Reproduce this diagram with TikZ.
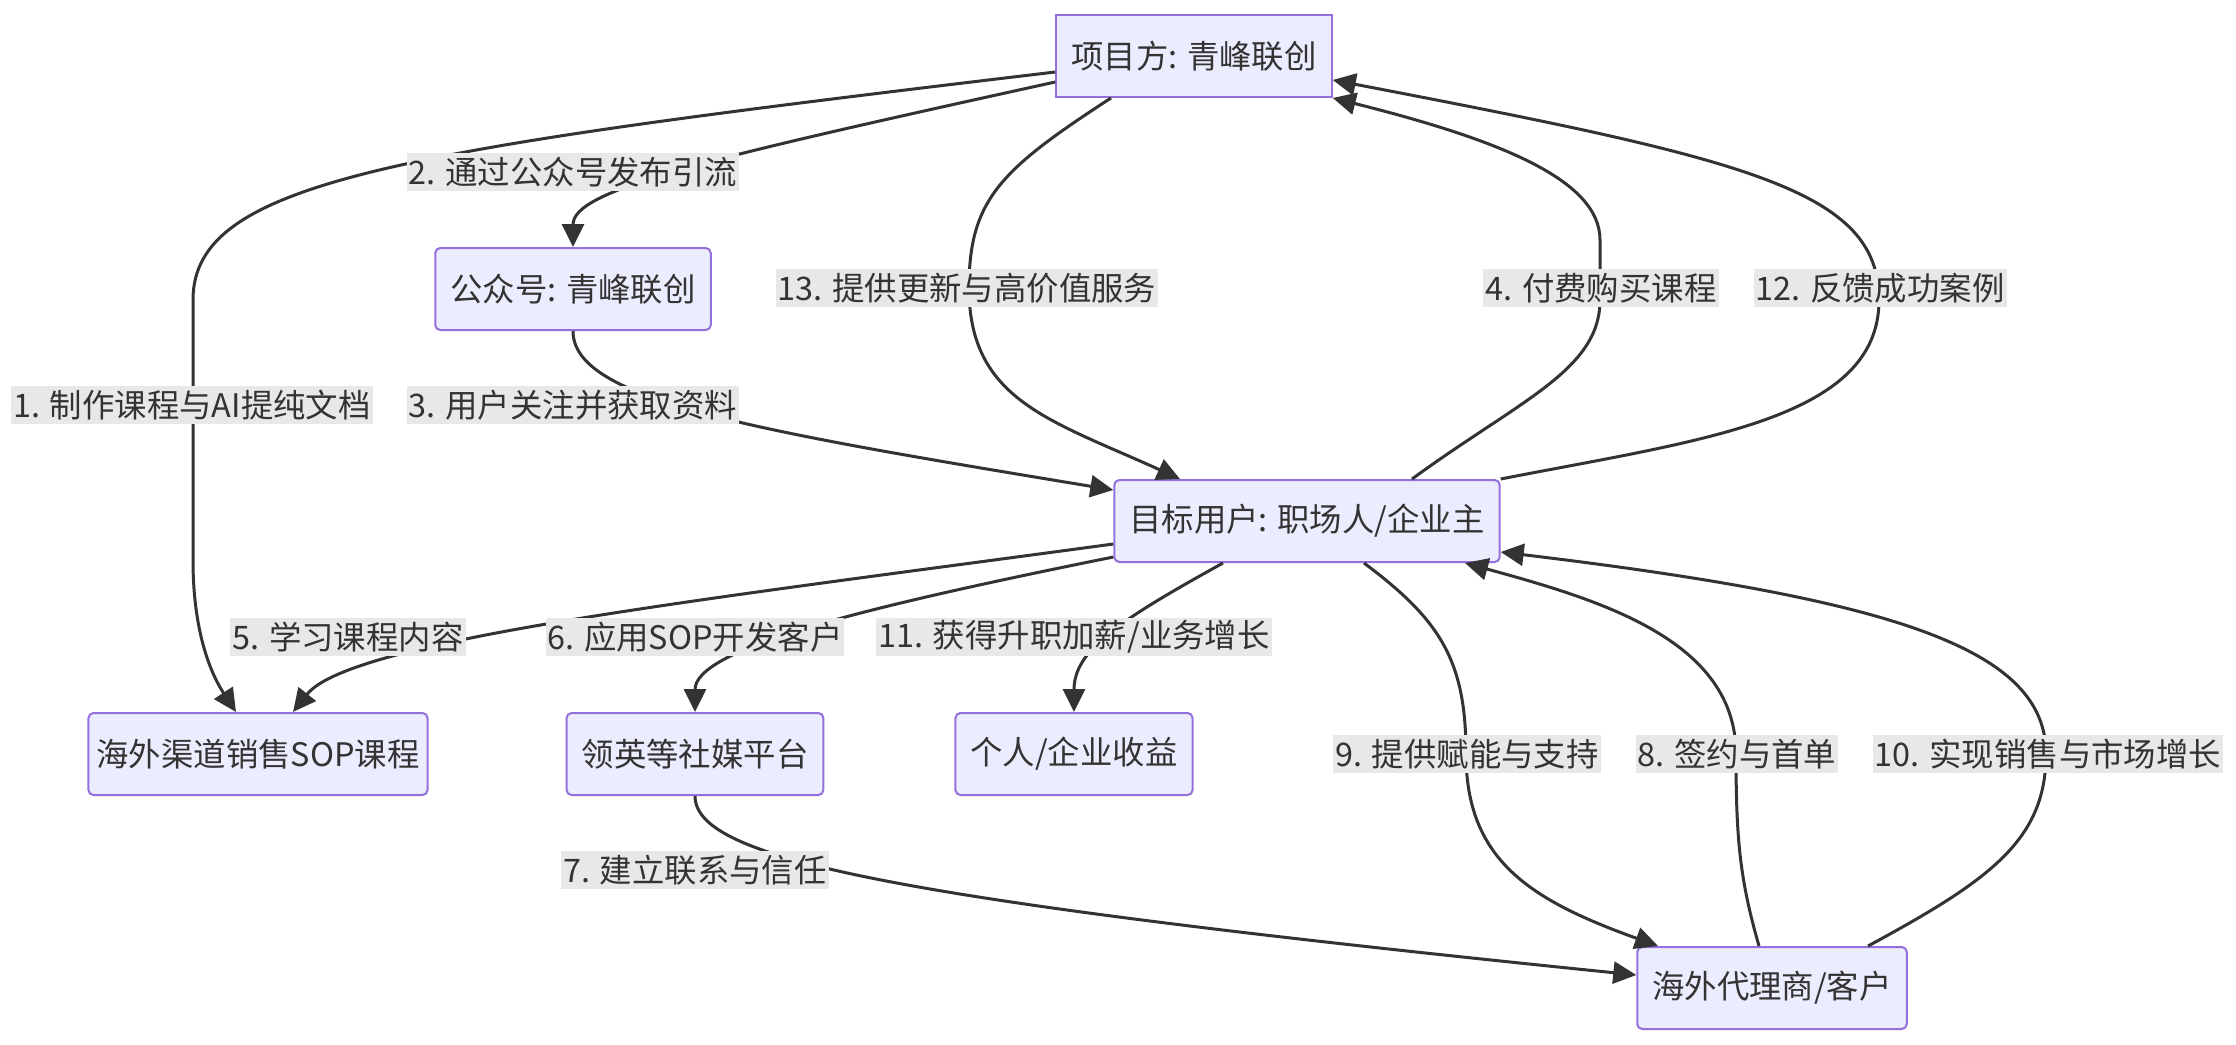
\documentclass[tikz,border=0pt]{standalone}
\usepackage{fontspec}
\newfontfamily\cjk{Noto Sans CJK SC}
\usetikzlibrary{arrows.meta}
\definecolor{NodeFill}{RGB}{236,236,255}
\definecolor{NodeLine}{RGB}{147,112,219}
\definecolor{InkGray}{RGB}{51,51,51}
\definecolor{LabelGray}{RGB}{232,232,232}
\tikzset{
  party/.style={draw=NodeLine,fill=NodeFill,line width=1pt,rounded corners=2.5pt,
    minimum height=41pt,inner xsep=7.5pt,text=InkGray,font=\cjk\fontsize{16.2}{19}\selectfont},
  note/.style={fill=LabelGray,inner xsep=1pt,inner ysep=0pt,minimum height=19pt,
    text=InkGray,font=\cjk\fontsize{16.2}{19}\selectfont},
  flow/.style={-{Triangle[length=11.5pt,width=11pt]},line width=1.5pt,InkGray}
}
\begin{document}
\begin{tikzpicture}[x=0.5pt,y=-0.5pt]
  \useasboundingbox (0,0) rectangle (2236,1044);
  \node[party,sharp corners] (proj) at (1194,56) {项目方: 青峰联创};
  \node[party] (gzh) at (573,289) {公众号: 青峰联创};
  \node[party] (user) at (1307,521) {目标用户: 职场人/企业主};
  \node[party,inner xsep=4pt] (sop) at (258,754) {海外渠道销售SOP课程};
  \node[party] (li) at (695,754) {领英等社媒平台};
  \node[party] (gain) at (1074,754) {个人/企业收益};
  \node[party] (agent) at (1772,988) {海外代理商/客户};

  \draw[flow] ([yshift=-8pt]proj.west) .. controls (400,150) and (193,180) .. (193,300)
    -- (193,560) .. controls (193,640) and (215,680) .. ([xshift=-11pt]sop.north);
  \draw[flow] ([yshift=-13pt]proj.west) .. controls (700,160) and (573,190) .. (gzh.north);
  \draw[flow] (gzh.south) .. controls (573,400) and (750,430) .. ([yshift=15.5pt]user.west);
  \draw[flow] ([xshift=52.5pt]user.north) .. controls (1520,400) and (1600,370) .. (1600,300)
    -- (1600,240) .. controls (1600,180) and (1500,140) .. (proj.south east);
  \draw[flow] ([xshift=-41.5pt]proj.south) .. controls (1000,170) and (969,200) .. (969,288)
    .. controls (969,400) and (1050,420) .. ([xshift=-63.5pt]user.north);
  \draw[flow] (user.north east) .. controls (1700,440) and (1879,420) .. (1879,300)
    .. controls (1879,190) and (1750,160) .. ([yshift=-12pt]proj.east);
  \draw[flow] ([yshift=-11.5pt]user.west) .. controls (700,600) and (350,640) .. ([xshift=17.5pt]sop.north);
  \draw[flow] ([yshift=-18pt]user.west) .. controls (850,610) and (695,650) .. (li.north);
  \draw[flow] ([xshift=-42pt]user.south) .. controls (1120,620) and (1074,650) .. (gain.north);
  \draw[flow] ([xshift=28.5pt]user.south) .. controls (1440,620) and (1466,660) .. (1466,754)
    .. controls (1466,860) and (1530,900) .. ([xshift=-57pt]agent.north);
  \draw[flow] ([xshift=-6.5pt]agent.north) .. controls (1740,880) and (1736,840) .. (1736,754)
    .. controls (1736,640) and (1600,600) .. ([xshift=79pt]user.south);
  \draw[flow] ([xshift=48pt]agent.north) .. controls (1990,880) and (2046,840) .. (2046,754)
    .. controls (2046,650) and (1900,600) .. ([yshift=-15.5pt]user.east);
  \draw[flow] (li.south) .. controls (695,860) and (900,900) .. ([yshift=6.5pt]agent.west);

  \node[note] (l1) at (192,405) {1. 制作课程与AI提纯文档};
  \node[note] (l2) at (573,172) {2. 通过公众号发布引流};
  \node[note] (l3) at (573,405) {3. 用户关注并获取资料};
  \node[note] (l4) at (1601,288) {4. 付费购买课程};
  \node[note] (l5) at (348,637) {5. 学习课程内容};
  \node[note] (l6) at (695,637) {6. 应用SOP开发客户};
  \node[note] (l7) at (695,870) {7. 建立联系与信任};
  \node[note] (l8) at (1737,754) {8. 签约与首单};
  \node[note] (l9) at (1467,754) {9. 提供赋能与支持};
  \node[note] (l10) at (2048,754) {10. 实现销售与市场增长};
  \node[note] (l11) at (1074,637) {11. 获得升职加薪/业务增长};
  \node[note] (l12) at (1880,288) {12. 反馈成功案例};
  \node[note] (l13) at (967,288) {13. 提供更新与高价值服务};
\end{tikzpicture}
\end{document}
